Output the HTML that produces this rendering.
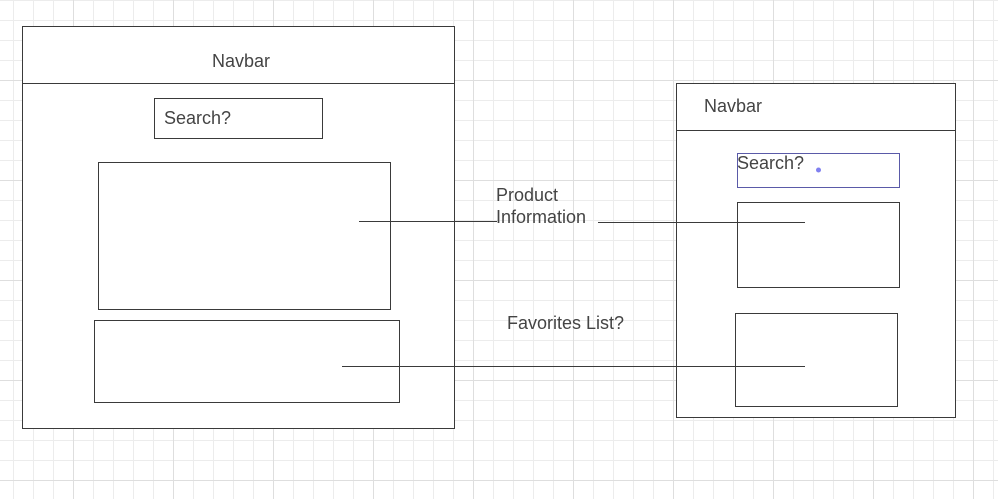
<!DOCTYPE html>
<html><head><meta charset="utf-8"><style>
html,body{margin:0;padding:0;background:#fff;}
body{width:998px;height:499px;overflow:hidden;}
svg{display:block;}
text{font-family:"Liberation Sans",sans-serif;font-size:18px;fill:#444;}
</style></head><body>
<svg width="998" height="499" viewBox="0 0 998 499" xmlns="http://www.w3.org/2000/svg">
<defs>
<pattern id="minor" x="13" y="0" width="20" height="20" patternUnits="userSpaceOnUse">
<path d="M0.5 0V20M0 0.5H20" stroke="#ececec" stroke-width="1" fill="none"/>
</pattern>
<pattern id="major" x="73" y="80" width="100" height="100" patternUnits="userSpaceOnUse">
<path d="M0.5 0V100M0 0.5H100" stroke="#dedede" stroke-width="1" fill="none"/>
</pattern>
</defs>
<rect width="998" height="499" fill="url(#minor)"/>
<rect width="998" height="499" fill="url(#major)"/>
<g stroke="#3a3a3a" stroke-width="1" fill="#fff">
<rect x="22.5" y="26.5" width="432" height="402"/>
<line x1="22" y1="83.5" x2="455" y2="83.5"/>
<rect x="154.5" y="98.5" width="168" height="40"/>
<rect x="98.5" y="162.5" width="292" height="147"/>
<rect x="94.5" y="320.5" width="305" height="82"/>
<rect x="676.5" y="83.5" width="279" height="334"/>
<line x1="676" y1="130.5" x2="956" y2="130.5"/>
<rect x="737.5" y="153.5" width="162" height="34" stroke="#5a5aa8"/>
<rect x="737.5" y="202.5" width="162" height="85"/>
<rect x="735.5" y="313.5" width="162" height="93"/>
<line x1="359" y1="221.5" x2="497" y2="221.5"/>
<line x1="598" y1="222.5" x2="805" y2="222.5"/>
<line x1="342" y1="366.5" x2="805" y2="366.5"/>
</g>
<circle cx="818.5" cy="170" r="2.5" fill="#8080f0"/>
<text x="212" y="67">Navbar</text>
<text x="164" y="124">Search?</text>
<text x="496" y="201">Product</text>
<text x="496" y="223">Information</text>
<text x="507" y="329">Favorites List?</text>
<text x="704" y="112">Navbar</text>
<text x="737" y="169">Search?</text>
</svg>
</body></html>
